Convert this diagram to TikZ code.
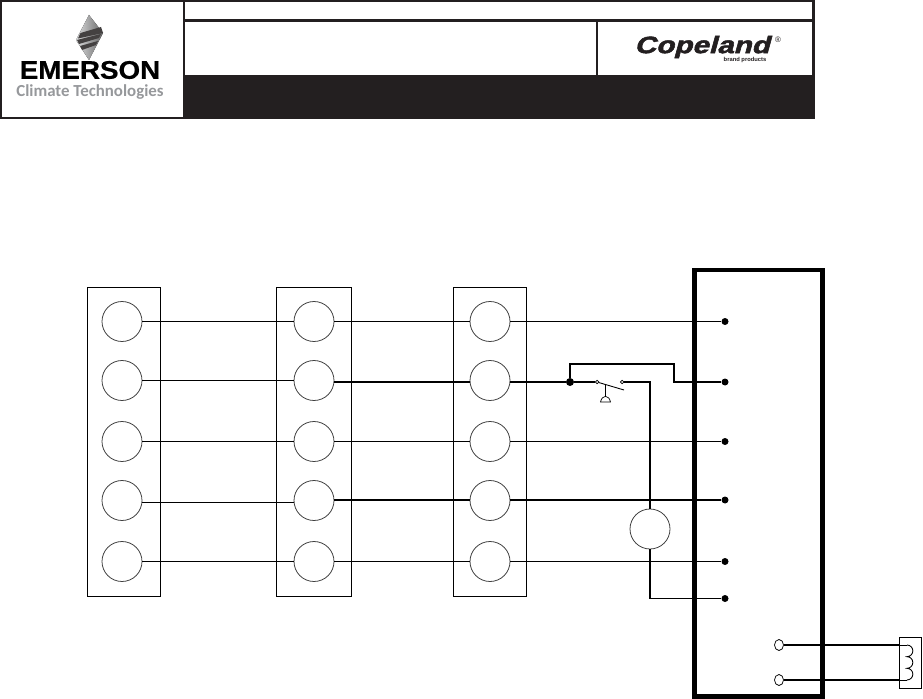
\documentclass[tikz,border=0pt]{standalone}
\usepackage{fontspec}
\setmainfont{Liberation Sans}
\newfontfamily\climatefont{Carlito}
\newfontfamily\brandfont[FakeBold=2,FakeSlant=0.22]{Liberation Sans Bold}
\newfontfamily\emersonfont[FakeBold=0.6]{Liberation Sans Bold}
\usepackage{graphicx}
\usetikzlibrary{shapes.geometric}

\definecolor{headblack}{HTML}{231F20}
\definecolor{logogray}{HTML}{A7A9AC}

\tikzset{
    pin/.style={draw=black!75,circle,line width=0.45pt,minimum size=40*0.02cm,inner sep=0pt,fill=white},
    motor/.style={pin},
    term/.style={circle,fill=black,minimum size=7*0.02cm,inner sep=0pt},
    contact/.style={draw,circle,line width=0.4pt,minimum size=3.5*0.02cm,inner sep=0pt,fill=white},
    lug/.style={draw,ellipse,line width=0.4pt,minimum width=9*0.02cm,minimum height=11*0.02cm,inner sep=0pt},
    wire/.style={line width=0.6pt},
    hotwire/.style={line width=1.1pt},
}

\begin{document}
\begin{tikzpicture}[x=0.02cm,y=-0.02cm]
    \useasboundingbox (0,0) rectangle (923,699);

    % header
    \draw[line width=1.7pt,color=headblack] (1,1) rectangle (813.5,118);
    \fill[color=headblack] (184,75) rectangle (815,119.5);
    \draw[line width=1.7pt,color=headblack] (184,0) -- (184,119);
    \draw[line width=1.3pt,color=headblack] (184,20.5) -- (813,20.5);
    \draw[line width=1.3pt,color=headblack] (597,20) -- (597,75);

    % logo
    \fill[left color=logogray!40,right color=black!60] (89,15) -- (103,33) -- (89,60) -- (76,40) -- cycle;
    \fill[color=headblack!85] (80.5,33) -- (101,27) -- (103,33) -- (78,38.5) -- cycle;
    \fill[color=headblack!85] (77,40) -- (101,34) -- (99,38) -- (79,44) -- cycle;
    \fill[color=headblack!85] (80,46) -- (98,41) -- (96,45) -- (82,50) -- cycle;
    \node (emerson) at (90,70) {\scalebox{1.09}[1]{\fontsize{14.5}{14.5}\selectfont\emersonfont EMERSON}};
    \node[color=logogray!90!black] (climate) at (90,92.5) {\climatefont\fontsize{9.6}{9.6}\selectfont\bfseries Climate Technologies};
    \node[color=headblack] (copeland) at (702,47) {\scalebox{1.25}[1]{\fontsize{13.5}{13.5}\selectfont\brandfont Copeland}};
    \node[color=headblack] (registered) at (778,40) {\fontsize{4.5}{4.5}\selectfont ®};
    \node[color=headblack] (brand) at (745,60.5) {\fontsize{3.3}{3.3}\selectfont\bfseries brand products};

    % plug boxes
    \draw[wire] (87.5,287.5) rectangle (160.5,596.5);
    \draw[wire] (276.5,287.5) rectangle (351.5,596.5);
    \draw[wire] (453.5,287.5) rectangle (526.5,596.5);

    % control box
    \draw[line width=2.55pt] (694.5,270) rectangle (822.3,696.3);

    \node[pin] (a1) at (122,321.5) {};
    \node[pin] (a2) at (122,380.5) {};
    \node[pin] (a3) at (122,441.5) {};
    \node[pin] (a4) at (122,500.5) {};
    \node[pin] (a5) at (122,561.5) {};

    \node[pin] (b1) at (314,321.5) {};
    \node[pin] (b2) at (314,380.5) {};
    \node[pin] (b3) at (314,441.5) {};
    \node[pin] (b4) at (314,500.5) {};
    \node[pin] (b5) at (314,561.5) {};

    \node[pin] (c1) at (490,321.5) {};
    \node[pin] (c2) at (490,380.5) {};
    \node[pin] (c3) at (490,441.5) {};
    \node[pin] (c4) at (490,500.5) {};
    \node[pin] (c5) at (490,561.5) {};

    \node[term] (t1) at (725,321.5) {};
    \node[term] (t2) at (725,382) {};
    \node[term] (t3) at (725,441.5) {};
    \node[term] (t4) at (725,500) {};
    \node[term] (t5) at (725,561.5) {};
    \node[term] (t6) at (725,598.5) {};

    \node[term,minimum size=8*0.02cm] (jn) at (570,382) {};
    \node[contact] (sw1) at (597,382) {};
    \node[contact] (sw2) at (622,382) {};
    \node[motor] (mot) at (650,529) {};
    \node[lug] (l1) at (779,645) {};
    \node[lug] (l2) at (779,680) {};

    \coordinate (swtip) at (624,390);
    \coordinate (stemtop) at (605.5,384.5);
    \coordinate (stembot) at (605.5,396.5);
    \coordinate (looptl) at (570,364);
    \coordinate (looptr) at (674,364);
    \coordinate (loopbr) at (674,382);
    \coordinate (swcorner) at (650,382);
    \coordinate (motcorner) at (650,598.5);
    \coordinate (coilleft) at (900,645);
    \coordinate (coilright) at (900,680);
    \coordinate (coilin) at (907,645);
    \coordinate (coilout) at (907,680);

    \draw[wire] (a1) -- (b1);
    \draw[wire] (a2) -- (b2);
    \draw[wire] (a3) -- (b3);
    \draw[wire] ([yshift=-0.04cm]a4.east) -- ([yshift=-0.04cm]b4.west);
    \draw[wire] (a5) -- (b5);

    \draw[wire] (b1) -- (c1);
    \draw[hotwire] (b2.east |- t2) -- (c2.west |- t2);
    \draw[wire] (b3) -- (c3);
    \draw[hotwire] (b4.east |- t4) -- (c4.west |- t4);
    \draw[wire] (b5) -- (c5);

    \draw[wire] (c1) -- (t1);
    \draw[hotwire] (c2.east |- jn) -- (jn);
    \draw[wire] (c3) -- (t3);
    \draw[hotwire] (c4.east |- t4) -- (t4);
    \draw[wire] (c5) -- (t5);

    \draw[hotwire] (jn) -- (sw1);
    \draw[hotwire] (jn) -- (looptl) -- (looptr) -- (loopbr) -- (t2);
    \draw[line width=0.5pt] (sw1) -- (swtip);
    \draw[line width=0.5pt] (stemtop) -- (stembot);
    \draw[line width=0.4pt] (600.5,402) .. controls (602,394.5) and (609,394.5) .. (610.5,402) -- cycle;
    \draw[hotwire] (sw2) -- (swcorner) -- (mot);
    \draw[hotwire] (mot) -- (motcorner);
    \draw[wire] (motcorner) -- (t6);

    % compressor thermostat
    \draw[wire] (899.5,637.5) rectangle (921.5,688.5);
    \draw[hotwire] (l1) -- (coilleft);
    \draw[hotwire] (l2) -- (coilright);
    \draw[line width=0.5pt] (coilleft) -- (coilin);
    \draw[line width=0.5pt] (coilright) -- (coilout);
    \draw[line width=0.5pt] (coilin) arc[start angle=-90,end angle=90,radius=5.83]
        arc[start angle=-90,end angle=90,radius=5.83]
        arc[start angle=-90,end angle=90,radius=5.83];
\end{tikzpicture}
\end{document}
